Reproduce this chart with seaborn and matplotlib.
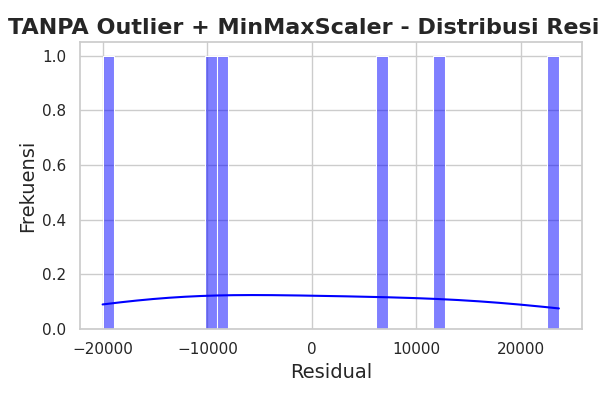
import numpy as np
import pandas as pd
import matplotlib
matplotlib.use("Agg")
import matplotlib.pyplot as plt
import seaborn as sns

# residuals (one value per bar)
residuals = [-20048, -9650, -8600, 6700, 12200, 23664]
n_bins = 40

df = pd.DataFrame({"Residual": residuals})

sns.set_theme(style="whitegrid")

fig, ax = plt.subplots(figsize=(6, 4), dpi=100)
sns.histplot(data=df, x="Residual", bins=n_bins, kde=True, color="blue", ax=ax)
ax.set_title("TANPA Outlier + MinMaxScaler - Distribusi Residual", fontsize=16, fontweight="bold")
ax.set_xlabel("Residual", fontsize=14)
ax.set_ylabel("Frekuensi", fontsize=14)
ax.tick_params(labelsize=11)
fig.subplots_adjust(left=0.133, right=0.9695, top=0.895, bottom=0.1775)
fig.savefig("out.png", dpi=100)
